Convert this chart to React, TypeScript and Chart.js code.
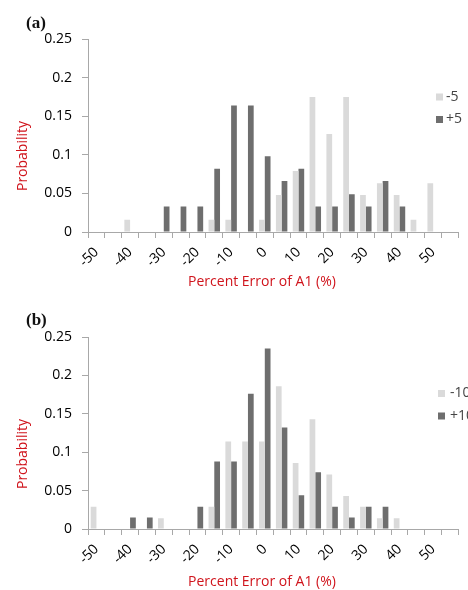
import React, { useEffect, useRef } from 'react';
import { Chart, registerables } from 'chart.js';

Chart.register(...registerables);

// ---- data ----
const categories = [-50, -45, -40, -35, -30, -25, -20, -15, -10, -5, 0, 5, 10, 15, 20, 25, 30, 35, 40, 45, 50, 55];
const tickLabels = ['-50', '-40', '-30', '-20', '-10', '0', '10', '20', '30', '40', '50'];
const yTickValues = [0, 0.05, 0.1, 0.15, 0.2, 0.25];

const seriesNamesA = ['-5', '+5'];
const panelAMinus5 = [0, 0, 0.016, 0, 0, 0, 0, 0.016, 0.016, 0, 0.016, 0.048, 0.079, 0.175, 0.127, 0.175, 0.048, 0.063, 0.048, 0.016, 0.063, 0];
const panelAPlus5 = [0, 0, 0, 0, 0.033, 0.033, 0.033, 0.082, 0.164, 0.164, 0.098, 0.066, 0.082, 0.033, 0.033, 0.049, 0.033, 0.066, 0.033, 0, 0, 0];

const seriesNamesB = ['-10', '+10'];
const panelBMinus10 = [0.029, 0, 0, 0, 0.014, 0, 0, 0.029, 0.114, 0.114, 0.114, 0.186, 0.086, 0.143, 0.071, 0.043, 0.029, 0.014, 0.014, 0, 0, 0];
const panelBPlus10 = [0, 0, 0.015, 0.015, 0, 0, 0.029, 0.088, 0.088, 0.176, 0.235, 0.132, 0.044, 0.074, 0.029, 0.015, 0.029, 0.029, 0, 0, 0, 0];

const panelLabels = ['(a)', '(b)'];
const yTitle = 'Probability';
const xTitle = 'Percent Error of A1 (%)';

// ---- styles ----
const LIGHT = '#dadada';
const DARK = '#6e6e6e';
const AXIS = '#a8a8a8';
const RED = '#d0141c';
const FONT = 'Open Sans';

type PanelCfg = {
  label: string;
  names: string[];
  light: number[];
  dark: number[];
  height: number;
  top: number;
  bottom: number;
  labelY: number;
  yTitleY: number;
  xTitleY: number;
  legendX: number;
  legendY: number[];
  legendTextX: number;
};

function makeTextPlugin(cfg: PanelCfg) {
  return {
    id: 'panelText',
    afterDraw(chart: any) {
      const ctx = chart.ctx;
      ctx.save();
      // panel label
      ctx.fillStyle = '#111';
      ctx.font = 'bold 17px "Liberation Serif"';
      ctx.textAlign = 'left';
      ctx.textBaseline = 'middle';
      ctx.fillText(cfg.label, 26, cfg.labelY);
      // y title
      ctx.save();
      ctx.translate(23, cfg.yTitleY);
      ctx.rotate(-Math.PI / 2);
      ctx.fillStyle = RED;
      ctx.font = `14px "${FONT}"`;
      ctx.textAlign = 'center';
      ctx.textBaseline = 'middle';
      ctx.fillText(yTitle, 0, 0);
      ctx.restore();
      // x title
      ctx.fillStyle = RED;
      ctx.font = `14px "${FONT}"`;
      ctx.textAlign = 'center';
      ctx.textBaseline = 'middle';
      ctx.fillText(xTitle, 262, cfg.xTitleY);
      // legend
      const ds = chart.data.datasets;
      ds.forEach((d: any, i: number) => {
        const y = cfg.legendY[i];
        ctx.fillStyle = d.backgroundColor;
        ctx.fillRect(cfg.legendX, y - 3.5, 7, 7);
        ctx.fillStyle = '#444';
        ctx.font = `14px "${FONT}"`;
        ctx.textAlign = 'left';
        ctx.textBaseline = 'middle';
        ctx.fillText(d.label, cfg.legendTextX, y);
      });
      ctx.restore();
    },
  };
}

function Panel({ cfg, offsetTop }: { cfg: PanelCfg; offsetTop: number }) {
  const ref = useRef<HTMLCanvasElement | null>(null);
  useEffect(() => {
    if (!ref.current) return;
    const chart = new Chart(ref.current, {
      type: 'bar',
      data: {
        labels: categories.map(String),
        datasets: [
          { label: cfg.names[0], data: cfg.light, backgroundColor: LIGHT, categoryPercentage: 0.68, barPercentage: 1 },
          { label: cfg.names[1], data: cfg.dark, backgroundColor: DARK, categoryPercentage: 0.68, barPercentage: 1 },
        ],
      },
      options: {
        responsive: false,
        animation: false,
        devicePixelRatio: 1,
        layout: { padding: { left: 0, right: 5, top: cfg.top, bottom: 0 } },
        plugins: { legend: { display: false }, tooltip: { enabled: false }, title: { display: false } },
        scales: {
          x: {
            type: 'category',
            offset: true,
            grid: { display: true, drawOnChartArea: false, drawTicks: true, tickLength: 6, color: AXIS, offset: true },
            border: { display: true, color: AXIS },
            ticks: {
              autoSkip: false,
              maxRotation: 45,
              minRotation: 45,
              padding: 6,
              color: '#000',
              font: { family: FONT, size: 14 },
              callback: (_v: any, i: number) => {
                const s = String(categories[i]);
                return tickLabels.includes(s) ? s : '';
              },
            },
            afterFit: (scale: any) => {
              scale.height = cfg.height - cfg.bottom;
            },
          },
          y: {
            min: 0,
            max: 0.25,
            afterBuildTicks: (scale: any) => {
              scale.ticks = yTickValues.map((v) => ({ value: v }));
            },
            grid: { display: true, drawOnChartArea: false, drawTicks: true, tickLength: 6, color: AXIS },
            border: { display: true, color: AXIS },
            ticks: {
              padding: 10,
              color: '#000',
              font: { family: FONT, size: 14 },
              callback: (v: any) => String(+Number(v).toFixed(2)),
            },
            afterFit: (scale: any) => {
              scale.width = 88;
            },
          },
        },
      },
      plugins: [makeTextPlugin(cfg)],
    } as any);
    return () => chart.destroy();
  }, [cfg]);
  return (
    <canvas
      ref={ref}
      width={468}
      height={cfg.height}
      style={{ position: 'absolute', left: 0, top: offsetTop, width: 468, height: cfg.height, display: 'block' }}
    />
  );
}

const cfgA: PanelCfg = {
  label: panelLabels[0],
  names: seriesNamesA,
  light: panelAMinus5,
  dark: panelAPlus5,
  height: 295,
  top: 39,
  bottom: 232,
  labelY: 24,
  yTitleY: 156,
  xTitleY: 282,
  legendX: 436,
  legendY: [97, 119.5],
  legendTextX: 446,
};

const cfgB: PanelCfg = {
  label: panelLabels[1],
  names: seriesNamesB,
  light: panelBMinus10,
  dark: panelBPlus10,
  height: 295,
  top: 42,
  bottom: 234,
  labelY: 26,
  yTitleY: 159,
  xTitleY: 287,
  legendX: 438,
  legendY: [98.5, 121],
  legendTextX: 450,
};

export default function App() {
  return (
    <div style={{ position: 'fixed', left: 0, top: 0, width: 468, height: 590, background: '#fff', overflow: 'hidden' }}>
      <Panel cfg={cfgA} offsetTop={0} />
      <Panel cfg={cfgB} offsetTop={295} />
    </div>
  );
}
